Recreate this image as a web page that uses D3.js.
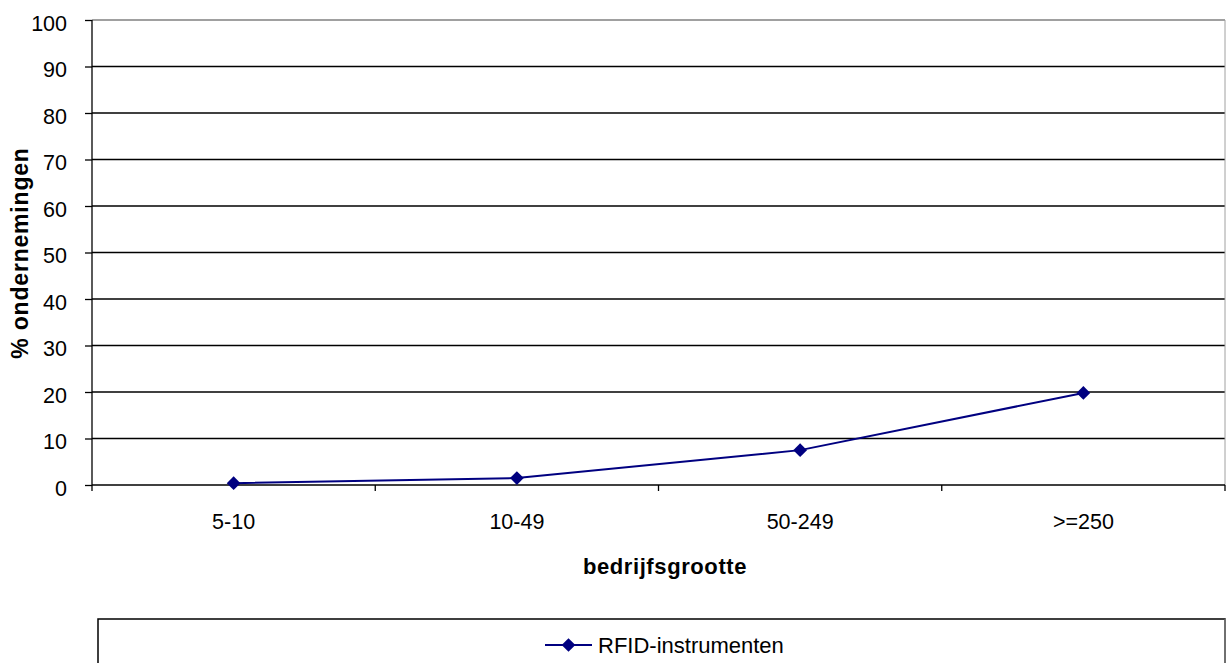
<!DOCTYPE html>
<html>
<head>
<meta charset="utf-8">
<script src="https://cdn.jsdelivr.net/npm/d3@7"></script>
<style>
  html, body { margin: 0; padding: 0; background: #fff; }
  svg { display: block; font-family: "Liberation Sans", Arial, sans-serif; }
</style>
</head>
<body>
<svg id="chart" width="1226" height="663"></svg>
<script>
// Share of companies using RFID instruments, by company size
const categories = ["5-10", "10-49", "50-249", ">=250"];
const rfidValues = [0.4, 1.5, 7.5, 19.8];
const yTicks = [0, 10, 20, 30, 40, 50, 60, 70, 80, 90, 100];
const seriesName = "RFID-instrumenten";
const xTitle = "bedrijfsgrootte";
const yTitle = "% ondernemingen";

const svg = d3.select("#chart");
const plot = { left: 92, right: 1225, top: 20, bottom: 485 };
const lineColor = "#000080";
const tickFont = 21.5;

const x = d3.scaleBand().domain(categories).range([plot.left, plot.right]).padding(0);
const y = d3.scaleLinear().domain([0, 100]).range([plot.bottom, plot.top]);

// gridlines
svg.append("g")
  .selectAll("line")
  .data(yTicks.filter(d => d > 0 && d < 100))
  .join("line")
  .attr("x1", plot.left).attr("x2", plot.right)
  .attr("y1", d => y(d)).attr("y2", d => y(d))
  .attr("stroke", "#000").attr("stroke-width", 1.3);

// plot frame (top and right edges in grey)
svg.append("line")
  .attr("x1", plot.left).attr("x2", plot.right)
  .attr("y1", y(100)).attr("y2", y(100))
  .attr("stroke", "#808080").attr("stroke-width", 1.5);
svg.append("line")
  .attr("x1", plot.right).attr("x2", plot.right)
  .attr("y1", y(100)).attr("y2", plot.bottom)
  .attr("stroke", "#a0a0a0").attr("stroke-width", 1);

// y axis
const yAxis = svg.append("g")
  .attr("transform", `translate(${plot.left},0)`)
  .call(d3.axisLeft(y).tickValues(yTicks).tickSize(7).tickPadding(18).tickFormat(d3.format("d")));
yAxis.attr("font-size", null).attr("font-family", null);
yAxis.select(".domain").attr("stroke", "#000").attr("stroke-width", 1.3)
  .attr("d", `M0,${plot.top}V${plot.bottom + 6}`);
yAxis.selectAll(".tick line").attr("stroke", "#000").attr("stroke-width", 1.3);
yAxis.selectAll(".tick text")
  .attr("dy", "0.47em")
  .style("font-size", tickFont + "px")
  .style("font-family", "'Liberation Sans', Arial, sans-serif")
  .attr("fill", "#000");

// x axis: ticks on category boundaries
const boundaries = categories.map(c => x(c) + x.bandwidth());
svg.append("line")
  .attr("x1", plot.left).attr("x2", plot.right)
  .attr("y1", plot.bottom).attr("y2", plot.bottom)
  .attr("stroke", "#000").attr("stroke-width", 1.3);
svg.append("g").selectAll("line")
  .data(boundaries)
  .join("line")
  .attr("x1", d => d).attr("x2", d => d)
  .attr("y1", plot.bottom).attr("y2", plot.bottom + 6)
  .attr("stroke", "#000").attr("stroke-width", 1.3);
svg.append("g").selectAll("text")
  .data(categories)
  .join("text")
  .attr("x", d => x(d) + x.bandwidth() / 2)
  .attr("y", 529)
  .attr("text-anchor", "middle")
  .style("font-size", tickFont + "px")
  .text(d => d);

// axis titles
svg.append("text")
  .attr("x", 665)
  .attr("y", 574)
  .attr("text-anchor", "middle")
  .style("font-size", "22px").style("letter-spacing", "0.6px")
  .attr("font-weight", "bold")
  .text(xTitle);
svg.append("text")
  .attr("transform", `translate(28,253) rotate(-90)`)
  .attr("text-anchor", "middle")
  .style("font-size", "23px").style("letter-spacing", "0.8px")
  .attr("font-weight", "bold")
  .text(yTitle);

// series line and diamond markers
const line = d3.line()
  .x((d, i) => x(categories[i]) + x.bandwidth() / 2)
  .y(d => y(d));
svg.append("path")
  .datum(rfidValues)
  .attr("d", line)
  .attr("fill", "none")
  .attr("stroke", lineColor)
  .attr("stroke-width", 2);

const diamond = d3.symbol().type(d3.symbolDiamond2).size(120);
svg.append("g").selectAll("path")
  .data(rfidValues)
  .join("path")
  .attr("transform", (d, i) => `translate(${x(categories[i]) + x.bandwidth() / 2},${y(d)})`)
  .attr("d", diamond)
  .attr("fill", lineColor);

// legend box
svg.append("rect")
  .attr("x", 98).attr("y", 619)
  .attr("width", 1127).attr("height", 60)
  .attr("fill", "#fff").attr("stroke", "#000").attr("stroke-width", 1.5);
svg.append("rect")
  .attr("x", 1224.5).attr("y", 619).attr("width", 1).attr("height", 50)
  .attr("fill", "#a0a0a0");
const lg = svg.append("g").attr("transform", "translate(545,645)");
lg.append("line")
  .attr("x1", 0).attr("x2", 47).attr("y1", 0).attr("y2", 0)
  .attr("stroke", lineColor).attr("stroke-width", 2);
lg.append("path")
  .attr("transform", "translate(23.5,0)")
  .attr("d", diamond)
  .attr("fill", lineColor);
lg.append("text")
  .attr("x", 53).attr("y", 8)
  .style("font-size", "22px")
  .text(seriesName);
</script>
</body>
</html>
